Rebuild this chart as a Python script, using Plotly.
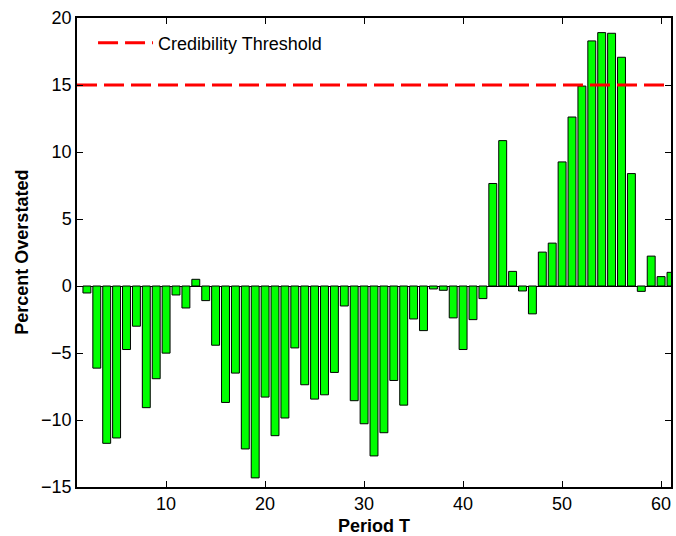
import plotly.graph_objects as go

periods = list(range(2, 62))
percent_overstated = [
    -0.52, -6.13, -11.74, -11.34, -4.74, -3.0, -9.08, -6.92, -5.01, -0.67,
    -1.64, 0.5, -1.09, -4.42, -8.69, -6.5, -12.16, -14.32, -8.29, -11.17,
    -9.85, -4.62, -7.37, -8.44, -8.12, -6.45, -1.49, -8.56, -10.28, -12.68,
    -10.95, -7.05, -8.89, -2.46, -3.33, -0.22, -0.32, -2.38, -4.74, -2.51,
    -0.94, 7.65, 10.85, 1.09, -0.37, -2.08, 2.53, 3.2, 9.26, 12.61,
    14.92, 18.29, 18.91, 18.86, 17.07, 8.39, -0.4, 2.23, 0.7, 1.02,
]
threshold = 15
x_range = [1, 61]
y_range = [-15, 20]
x_ticks = [10, 20, 30, 40, 50, 60]
y_ticks = [-15, -10, -5, 0, 5, 10, 15, 20]

fig = go.Figure()
fig.add_trace(go.Bar(
    x=periods, y=percent_overstated, width=0.8,
    marker=dict(color="#00FF00", line=dict(color="black", width=1)),
    showlegend=False,
))
fig.add_trace(go.Scatter(
    x=x_range, y=[threshold, threshold], mode="lines",
    line=dict(color="#FF0000", width=3, dash="20px,7px"),
    name="Credibility Threshold",
))

font = "Liberation Sans, Arial, Helvetica, sans-serif"
fig.update_layout(
    width=676, height=536,
    margin=dict(l=77, r=3, t=18, b=48),
    plot_bgcolor="white", paper_bgcolor="white",
    font=dict(family=font, size=18, color="black"),
    legend=dict(x=0.027, y=0.986, xanchor="left", yanchor="top",
                bgcolor="rgba(0,0,0,0)", borderwidth=0,
                font=dict(size=18), itemwidth=55),
    bargap=0.2,
    annotations=[dict(
        text="<b>Percent Overstated</b>", xref="paper", yref="paper",
        x=-56 / 596, y=0.5, xanchor="center", yanchor="middle",
        textangle=-90, showarrow=False, font=dict(size=18),
    )],
)
fig.update_xaxes(
    range=x_range, tickvals=x_ticks, ticks="inside", ticklen=6,
    tickcolor="black", showline=True, linecolor="black", linewidth=1.5,
    mirror="ticks", showgrid=False, zeroline=False,
    title=dict(text="<b>Period T</b>", font=dict(size=18), standoff=6),
    tickfont=dict(size=18),
)
fig.update_yaxes(
    range=y_range, tickvals=y_ticks, ticktext=[("−" + str(-v)) if v < 0 else str(v) for v in y_ticks],
    ticks="inside", ticklen=6,
    tickcolor="black", showline=True, linecolor="black", linewidth=1.5,
    mirror="ticks", showgrid=False, zeroline=True, zerolinecolor="black",
    zerolinewidth=1,
    tickfont=dict(size=18),
)

fig.write_html("out.html")
